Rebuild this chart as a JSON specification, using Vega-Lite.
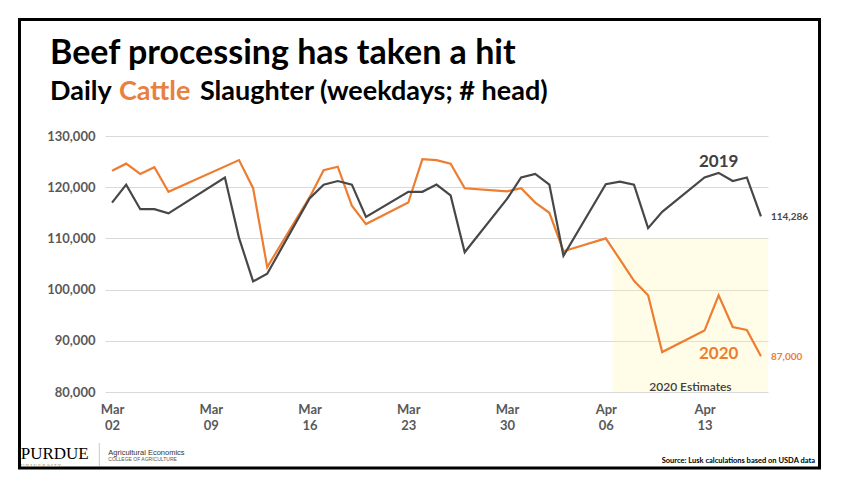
{
  "$schema": "https://vega.github.io/schema/vega-lite/v6.json",
  "width": 663,
  "height": 256,
  "autosize": "none",
  "padding": {"left": 105, "top": 136, "right": 76, "bottom": 88},
  "background": "white",
  "config": {"view": {"stroke": null}, "font": "Lato", "numberFormat": ","},
  "layer": [
    {
      "data": {"values": [{}]},
      "mark": {"type": "rect", "fill": "#FFF7A0", "opacity": 0.25},
      "encoding": {
        "x": {"datum": {"year": 2020, "month": 4, "date": 6, "hours": 12}, "type": "temporal", "title": null},
        "x2": {"datum": {"year": 2020, "month": 4, "date": 17, "hours": 12}},
        "y": {"datum": 80000, "type": "quantitative", "title": null},
        "y2": {"datum": 110000}
      }
    },
    {
      "data": {
        "values": [
          {"date": "2020/03/02", "series": "2020", "head": 123200},
          {"date": "2020/03/03", "series": "2020", "head": 124600},
          {"date": "2020/03/04", "series": "2020", "head": 122600},
          {"date": "2020/03/05", "series": "2020", "head": 123900},
          {"date": "2020/03/06", "series": "2020", "head": 119100},
          {"date": "2020/03/11", "series": "2020", "head": 125300},
          {"date": "2020/03/12", "series": "2020", "head": 119800},
          {"date": "2020/03/13", "series": "2020", "head": 104400},
          {"date": "2020/03/16", "series": "2020", "head": 118000},
          {"date": "2020/03/17", "series": "2020", "head": 123300},
          {"date": "2020/03/18", "series": "2020", "head": 124000},
          {"date": "2020/03/19", "series": "2020", "head": 116400},
          {"date": "2020/03/20", "series": "2020", "head": 112800},
          {"date": "2020/03/23", "series": "2020", "head": 117000},
          {"date": "2020/03/24", "series": "2020", "head": 125500},
          {"date": "2020/03/25", "series": "2020", "head": 125300},
          {"date": "2020/03/26", "series": "2020", "head": 124600},
          {"date": "2020/03/27", "series": "2020", "head": 119800},
          {"date": "2020/03/30", "series": "2020", "head": 119200},
          {"date": "2020/03/31", "series": "2020", "head": 119800},
          {"date": "2020/04/01", "series": "2020", "head": 117000},
          {"date": "2020/04/02", "series": "2020", "head": 115000},
          {"date": "2020/04/03", "series": "2020", "head": 107500},
          {"date": "2020/04/06", "series": "2020", "head": 110000},
          {"date": "2020/04/07", "series": "2020", "head": 105900},
          {"date": "2020/04/08", "series": "2020", "head": 101700},
          {"date": "2020/04/09", "series": "2020", "head": 98900},
          {"date": "2020/04/10", "series": "2020", "head": 87800},
          {"date": "2020/04/13", "series": "2020", "head": 92000},
          {"date": "2020/04/14", "series": "2020", "head": 98900},
          {"date": "2020/04/15", "series": "2020", "head": 92700},
          {"date": "2020/04/16", "series": "2020", "head": 92100},
          {"date": "2020/04/17", "series": "2020", "head": 87000},
          {"date": "2020/03/02", "series": "2019", "head": 117000},
          {"date": "2020/03/03", "series": "2019", "head": 120500},
          {"date": "2020/03/04", "series": "2019", "head": 115700},
          {"date": "2020/03/05", "series": "2019", "head": 115700},
          {"date": "2020/03/06", "series": "2019", "head": 114900},
          {"date": "2020/03/10", "series": "2019", "head": 121900},
          {"date": "2020/03/11", "series": "2019", "head": 110100},
          {"date": "2020/03/12", "series": "2019", "head": 101600},
          {"date": "2020/03/13", "series": "2019", "head": 103100},
          {"date": "2020/03/16", "series": "2019", "head": 117800},
          {"date": "2020/03/17", "series": "2019", "head": 120500},
          {"date": "2020/03/18", "series": "2019", "head": 121200},
          {"date": "2020/03/19", "series": "2019", "head": 120500},
          {"date": "2020/03/20", "series": "2019", "head": 114200},
          {"date": "2020/03/23", "series": "2019", "head": 119100},
          {"date": "2020/03/24", "series": "2019", "head": 119100},
          {"date": "2020/03/25", "series": "2019", "head": 120500},
          {"date": "2020/03/26", "series": "2019", "head": 118400},
          {"date": "2020/03/27", "series": "2019", "head": 107300},
          {"date": "2020/03/30", "series": "2019", "head": 117700},
          {"date": "2020/03/31", "series": "2019", "head": 121900},
          {"date": "2020/04/01", "series": "2019", "head": 122600},
          {"date": "2020/04/02", "series": "2019", "head": 120500},
          {"date": "2020/04/03", "series": "2019", "head": 106600},
          {"date": "2020/04/06", "series": "2019", "head": 120600},
          {"date": "2020/04/07", "series": "2019", "head": 121100},
          {"date": "2020/04/08", "series": "2019", "head": 120500},
          {"date": "2020/04/09", "series": "2019", "head": 112000},
          {"date": "2020/04/10", "series": "2019", "head": 115200},
          {"date": "2020/04/13", "series": "2019", "head": 121900},
          {"date": "2020/04/14", "series": "2019", "head": 122800},
          {"date": "2020/04/15", "series": "2019", "head": 121200},
          {"date": "2020/04/16", "series": "2019", "head": 121900},
          {"date": "2020/04/17", "series": "2019", "head": 114286}
        ],
        "format": {"parse": {"date": "date"}}
      },
      "layer": [
        {
          "mark": {"type": "line", "strokeWidth": 2.2},
          "encoding": {
            "x": {
              "field": "date", "type": "temporal", "title": null,
              "scale": {"domain": [{"year": 2020, "month": 3, "date": 1, "hours": 12}, {"year": 2020, "month": 4, "date": 17, "hours": 12}]},
              "axis": {
                "values": [
                  {"year": 2020, "month": 3, "date": 2},
                  {"year": 2020, "month": 3, "date": 9},
                  {"year": 2020, "month": 3, "date": 16},
                  {"year": 2020, "month": 3, "date": 23},
                  {"year": 2020, "month": 3, "date": 30},
                  {"year": 2020, "month": 4, "date": 6},
                  {"year": 2020, "month": 4, "date": 13}
                ],
                "labelExpr": "[timeFormat(datum.value, '%b'), timeFormat(datum.value, '%d')]",
                "grid": false, "domain": false, "ticks": false,
                "labelPadding": 11, "labelFont": "Lato", "labelFontSize": 13,
                "labelFontWeight": "bold", "labelColor": "#595959",
                "labelLineHeight": 16, "labelOverlap": false
              }
            },
            "y": {
              "field": "head", "type": "quantitative", "title": null,
              "scale": {"domain": [80000, 130000], "nice": false, "zero": false},
              "axis": {
                "values": [80000, 90000, 100000, 110000, 120000, 130000],
                "format": ",",
                "labelExpr": "format(datum.value, ',')",
                "grid": true, "gridColor": "#d9d9d9", "gridWidth": 1.2,
                "domain": false, "ticks": false, "labelPadding": 10,
                "labelFont": "Lato", "labelFontSize": 13, "labelFontWeight": "bold",
                "labelColor": "#595959"
              }
            },
            "color": {
              "field": "series", "type": "nominal",
              "scale": {"domain": ["2019", "2020"], "range": ["#474747", "#ED7D31"]},
              "legend": null
            }
          }
        },
        {
          "transform": [{"filter": "month(datum.date) == 3 && date(datum.date) == 17"}],
          "mark": {"type": "text", "align": "left", "baseline": "middle", "dx": 10, "dy": 1, "fontSize": 10, "fontWeight": "bold", "font": "Lato"},
          "encoding": {
            "x": {"field": "date", "type": "temporal", "title": null},
            "y": {"field": "head", "type": "quantitative", "title": null},
            "text": {"field": "head", "type": "quantitative", "format": ","},
            "color": {"field": "series", "type": "nominal", "legend": null}
          }
        }
      ]
    },
    {
      "data": {"values": [{}]},
      "mark": {"type": "text", "text": "2019", "fontSize": 17, "fontWeight": "bold", "color": "#404040", "align": "center", "baseline": "middle", "font": "Lato"},
      "encoding": {
        "x": {"datum": {"year": 2020, "month": 4, "date": 14}, "type": "temporal"},
        "y": {"datum": 125000, "type": "quantitative"}
      }
    },
    {
      "data": {"values": [{}]},
      "mark": {"type": "text", "text": "2020", "fontSize": 17, "fontWeight": "bold", "color": "#ED7D31", "align": "center", "baseline": "middle", "font": "Lato"},
      "encoding": {
        "x": {"datum": {"year": 2020, "month": 4, "date": 14}, "type": "temporal"},
        "y": {"datum": 87400, "type": "quantitative"}
      }
    },
    {
      "data": {"values": [{}]},
      "mark": {"type": "text", "text": "2020 Estimates", "fontSize": 12, "fontWeight": 600, "color": "#404040", "align": "center", "baseline": "middle", "font": "Lato"},
      "encoding": {
        "x": {"datum": {"year": 2020, "month": 4, "date": 12}, "type": "temporal"},
        "y": {"datum": 81000, "type": "quantitative"}
      }
    },
    {
      "data": {"values": [{}]},
      "mark": {"type": "rect", "filled": false, "stroke": "black", "strokeWidth": 3},
      "encoding": {
        "x": {"datum": {"year": 2020, "month": 2, "date": 24, "hours": 10, "minutes": 31}, "type": "temporal"},
        "x2": {"datum": {"year": 2020, "month": 4, "date": 21, "hours": 3, "minutes": 39}},
        "y": {"datum": 152754, "type": "quantitative"},
        "y2": {"datum": 65156}
      }
    },
    {
      "data": {"values": [{}]},
      "mark": {"type": "text", "text": "Beef processing has taken a hit", "fontSize": 34, "fontWeight": "bold", "color": "black", "align": "left", "baseline": "alphabetic", "font": "Lato"},
      "encoding": {
        "x": {"datum": {"year": 2020, "month": 2, "date": 26, "hours": 14, "minutes": 25}, "type": "temporal"},
        "y": {"datum": 144062, "type": "quantitative"}
      }
    },
    {
      "data": {"values": [{}]},
      "mark": {"type": "text", "text": "Daily", "fontSize": 27, "fontWeight": "bold", "color": "black", "align": "left", "baseline": "alphabetic", "font": "Lato"},
      "encoding": {
        "x": {"datum": {"year": 2020, "month": 2, "date": 26, "hours": 14, "minutes": 25}, "type": "temporal"},
        "y": {"datum": 137031, "type": "quantitative"}
      }
    },
    {
      "data": {"values": [{}]},
      "mark": {"type": "text", "text": "Cattle", "dx": 69, "fontSize": 27, "fontWeight": "bold", "color": "#E8803F", "align": "left", "baseline": "alphabetic", "font": "Lato"},
      "encoding": {
        "x": {"datum": {"year": 2020, "month": 2, "date": 26, "hours": 14, "minutes": 25}, "type": "temporal"},
        "y": {"datum": 137031, "type": "quantitative"}
      }
    },
    {
      "data": {"values": [{}]},
      "mark": {"type": "text", "text": "Slaughter (weekdays; # head)", "dx": 150, "fontSize": 27, "fontWeight": "bold", "color": "black", "align": "left", "baseline": "alphabetic", "font": "Lato"},
      "encoding": {
        "x": {"datum": {"year": 2020, "month": 2, "date": 26, "hours": 14, "minutes": 25}, "type": "temporal"},
        "y": {"datum": 137031, "type": "quantitative"}
      }
    },
    {
      "data": {"values": [{}]},
      "mark": {"type": "text", "text": "PURDUE", "fontSize": 17, "color": "black", "align": "left", "baseline": "alphabetic", "font": "Liberation Serif"},
      "encoding": {
        "x": {"datum": {"year": 2020, "month": 2, "date": 24, "hours": 12, "minutes": 35}, "type": "temporal"},
        "y": {"datum": 66910, "type": "quantitative"}
      }
    },
    {
      "data": {"values": [{}]},
      "mark": {"type": "text", "text": "U  N  I  V  E  R  S  I  T  Y", "fontSize": 5, "color": "#9D8B5C", "align": "left", "baseline": "alphabetic", "font": "Liberation Serif"},
      "encoding": {
        "x": {"datum": {"year": 2020, "month": 2, "date": 24, "hours": 12, "minutes": 35}, "type": "temporal"},
        "y": {"datum": 65400, "type": "quantitative"}
      }
    },
    {
      "data": {"values": [{}]},
      "mark": {"type": "rule", "color": "#c8c8c8", "strokeWidth": 1},
      "encoding": {
        "x": {"datum": {"year": 2020, "month": 3, "date": 1, "hours": 2, "minutes": 18}, "type": "temporal"},
        "y": {"datum": 70039, "type": "quantitative"},
        "y2": {"datum": 65547}
      }
    },
    {
      "data": {"values": [{}]},
      "mark": {"type": "text", "text": "Agricultural Economics", "fontSize": 7.5, "color": "#333333", "align": "left", "baseline": "alphabetic", "font": "Liberation Sans"},
      "encoding": {
        "x": {"datum": {"year": 2020, "month": 3, "date": 1, "hours": 17, "minutes": 37}, "type": "temporal"},
        "y": {"datum": 67695, "type": "quantitative"}
      }
    },
    {
      "data": {"values": [{}]},
      "mark": {"type": "text", "text": "COLLEGE OF AGRICULTURE", "fontSize": 5, "color": "#555555", "align": "left", "baseline": "alphabetic", "font": "Liberation Sans"},
      "encoding": {
        "x": {"datum": {"year": 2020, "month": 3, "date": 1, "hours": 17, "minutes": 37}, "type": "temporal"},
        "y": {"datum": 66426, "type": "quantitative"}
      }
    },
    {
      "data": {"values": [{}]},
      "mark": {"type": "text", "text": "Source: Lusk calculations based on USDA data", "fontSize": 7.5, "fontWeight": "bold", "color": "black", "align": "right", "baseline": "alphabetic", "font": "Lato"},
      "encoding": {
        "x": {"datum": {"year": 2020, "month": 4, "date": 20, "hours": 20, "minutes": 1}, "type": "temporal"},
        "y": {"datum": 66133, "type": "quantitative"}
      }
    }
  ]
}
